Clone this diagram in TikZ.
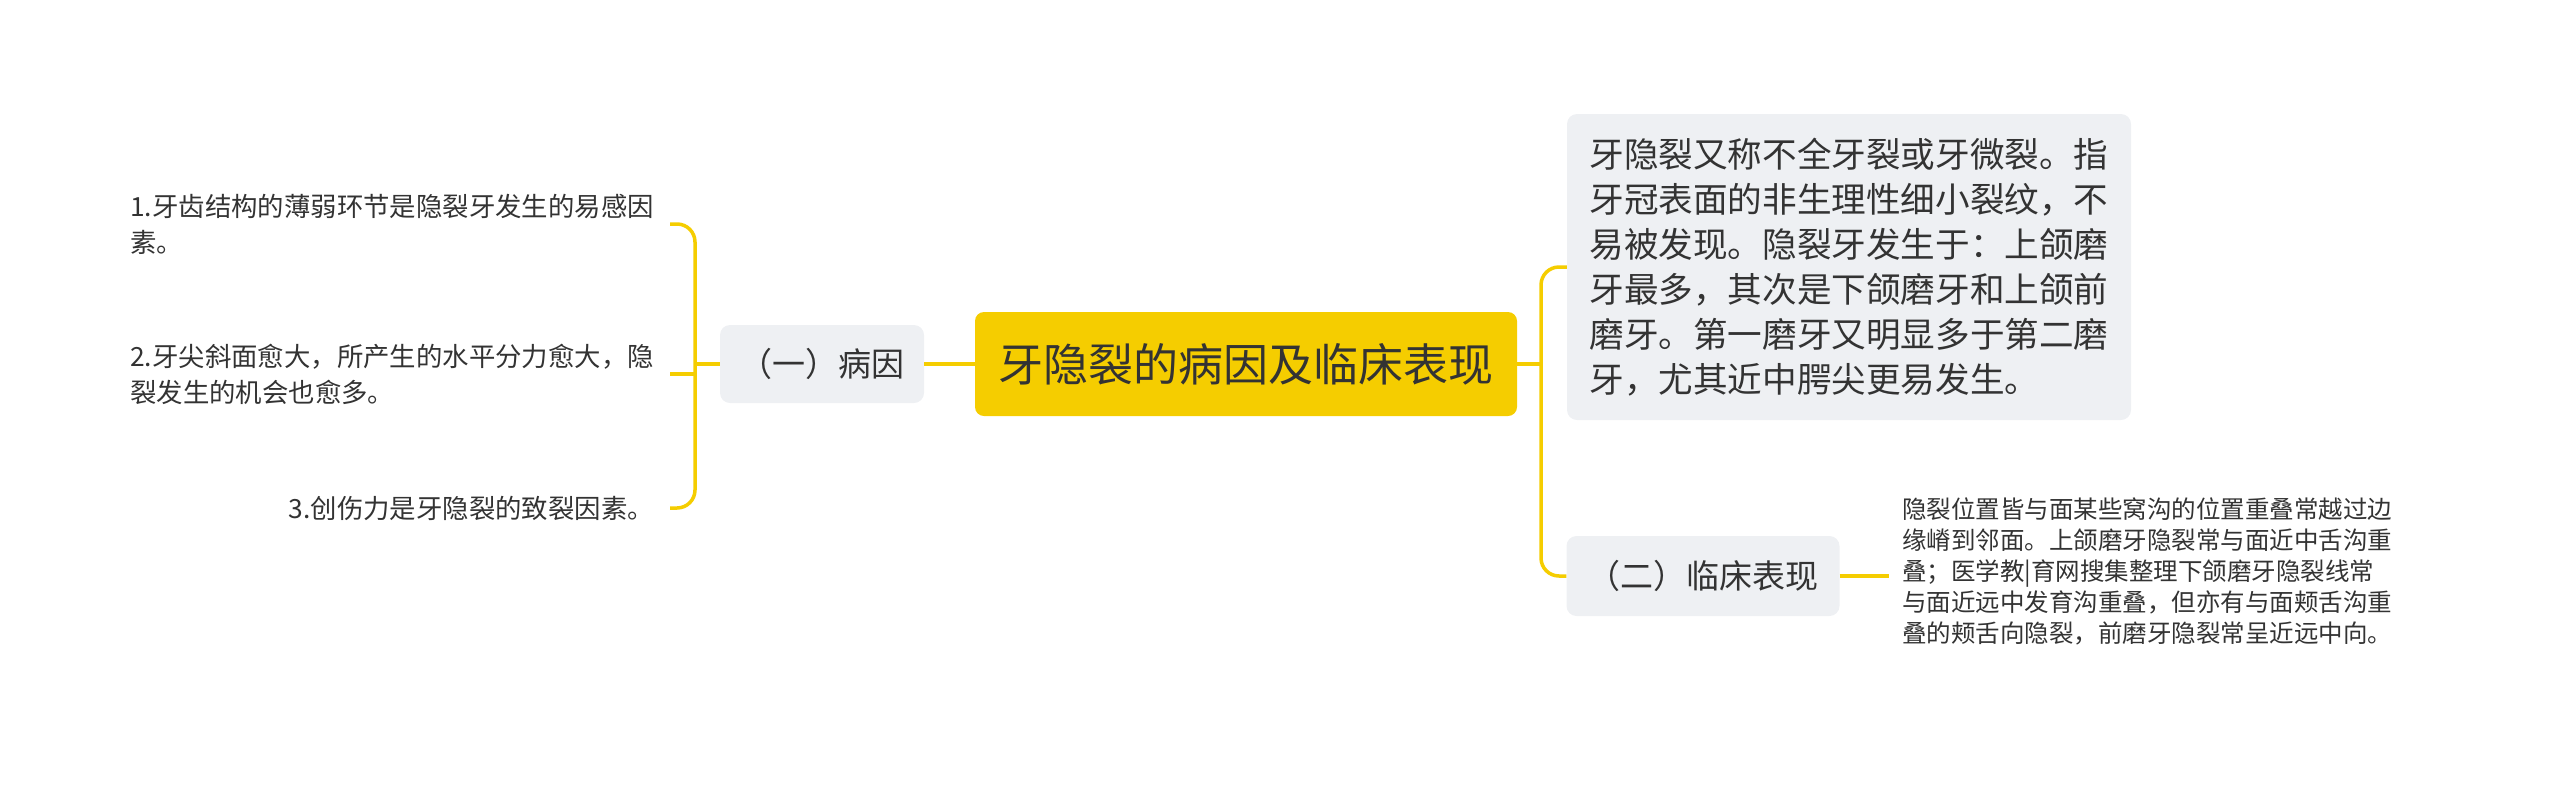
\documentclass[tikz,border=0pt]{standalone}
\usepackage{fontspec}
\setmainfont{Noto Sans CJK SC}
\usepackage{tikz}
\usetikzlibrary{positioning}
\definecolor{mmyellow}{HTML}{F5CD00}
\definecolor{mmgray}{HTML}{EEF0F3}
\definecolor{mmtext}{HTML}{333333}

\begin{document}
\begin{tikzpicture}[x=1pt, y=-1pt, %
      link/.style={mmyellow, line width=3.5pt, rounded corners=18pt}, %
      root/.style={fill=mmyellow, rounded corners=9pt, text=mmtext, %
        minimum width=542pt, minimum height=104pt, font=\fontsize{45}{54}\selectfont}, %
      sub/.style={fill=mmgray, rounded corners=10pt, text=mmtext, font=\fontsize{33}{40}\selectfont}, %
      leaf/.style={align=left, text=mmtext, inner ysep=0pt, font=\fontsize{26.4}{36}\selectfont}, %
      ]
    \useasboundingbox (0,0) rectangle (2560,788);

    \node[root] (root) at (1246,364) {牙隐裂的病因及临床表现};
    \node[sub, minimum width=204pt, minimum height=78pt] (cause) at (822,364) {（一）病因};
    \node[sub, minimum width=564pt, minimum height=306pt, align=left, %
      font=\fontsize{34.6}{45}\selectfont] (def) at (1849,267) {%
      牙隐裂又称不全牙裂或牙微裂。指\\
      牙冠表面的非生理性细小裂纹，不\\
      易被发现。隐裂牙发生于：上颌磨\\
      牙最多，其次是下颌磨牙和上颌前\\
      磨牙。第一磨牙又明显多于第二磨\\
      牙，尤其近中腭尖更易发生。};
    \node[sub, minimum width=273pt, minimum height=80pt] (clinic) at (1703,576) {（二）临床表现};
    \node[leaf, anchor=west, inner xsep=13pt, font=\fontsize{24.5}{31}\selectfont] (sign) at (1889,571) {%
      隐裂位置皆与面某些窝沟的位置重叠常越过边\\
      缘嵴到邻面。上颌磨牙隐裂常与面近中舌沟重\\
      叠；医学教|育网搜集整理下颌磨牙隐裂线常\\
      与面近远中发育沟重叠，但亦有与面颊舌沟重\\
      叠的颊舌向隐裂，前磨牙隐裂常呈近远中向。};

    % left leaves
    \foreach \n/\y/\txt in { %
      l1/224/{1.牙齿结构的薄弱环节是隐裂牙发生的易感因\\素。}, %
      l2/374/{2.牙尖斜面愈大，所产生的水平分力愈大，隐\\裂发生的机会也愈多。}, %
      l3/508/{3.创伤力是牙隐裂的致裂因素。}%
    }{ %
      \node[leaf, anchor=east, inner xsep=16pt] (\n) at (670,\y) {\txt};
    }

    \coordinate (lbar) at (695,364);
    \coordinate (rbar) at (1541,364);

    \draw[link] (root.west) -- (cause.east);
    \draw[link] (cause.west) -- (lbar);
    \draw[link] (l1.east) -| (lbar) |- (l3.east);
    \draw[link] (l2.east) -- (l2.east -| lbar);

    \draw[link] (root.east) -- (rbar);
    \draw[link] (def.west) -| (rbar) |- (clinic.west);
    \draw[link] (clinic.east) -- (clinic.east -| sign.west);
\end{tikzpicture}
\end{document}
